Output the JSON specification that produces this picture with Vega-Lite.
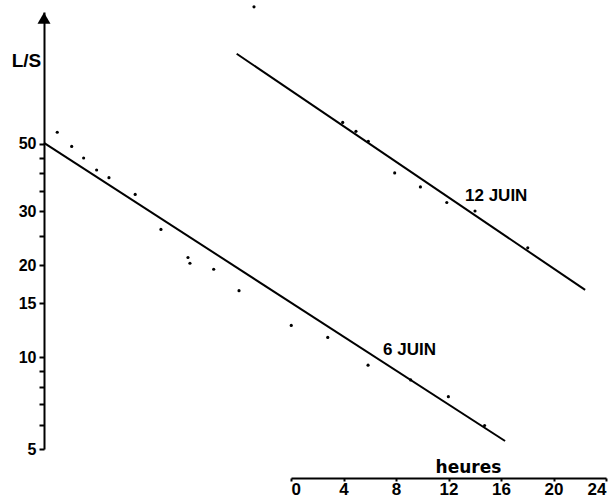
{
  "$schema": "https://vega.github.io/schema/vega-lite/v6.json",
  "width": 562,
  "height": 437,
  "autosize": {"type": "none"},
  "padding": {"left": 44, "top": 12, "right": 10, "bottom": 50},
  "background": "white",
  "config": {
    "view": {"stroke": null},
    "font": "Liberation Sans"
  },
  "datasets": {
    "points": [
      {"series": "6 JUIN", "h": -17.81, "v": 54.5},
      {"series": "6 JUIN", "h": -16.71, "v": 49.0},
      {"series": "6 JUIN", "h": -15.80, "v": 44.9},
      {"series": "6 JUIN", "h": -14.81, "v": 41.0},
      {"series": "6 JUIN", "h": -13.87, "v": 38.7},
      {"series": "6 JUIN", "h": -11.87, "v": 34.1},
      {"series": "6 JUIN", "h": -9.91, "v": 26.2},
      {"series": "6 JUIN", "h": -7.85, "v": 21.2},
      {"series": "6 JUIN", "h": -7.70, "v": 20.3},
      {"series": "6 JUIN", "h": -5.89, "v": 19.4},
      {"series": "6 JUIN", "h": -3.96, "v": 16.5},
      {"series": "6 JUIN", "h": 0.02, "v": 12.7},
      {"series": "6 JUIN", "h": 2.80, "v": 11.6},
      {"series": "6 JUIN", "h": 5.87, "v": 9.41},
      {"series": "6 JUIN", "h": 9.12, "v": 8.42},
      {"series": "6 JUIN", "h": 11.99, "v": 7.42},
      {"series": "6 JUIN", "h": 14.75, "v": 5.97},
      {"series": "12 JUIN", "h": -2.82, "v": 140.4},
      {"series": "12 JUIN", "h": 3.94, "v": 58.7},
      {"series": "12 JUIN", "h": 4.95, "v": 54.9},
      {"series": "12 JUIN", "h": 5.89, "v": 50.9},
      {"series": "12 JUIN", "h": 7.90, "v": 40.1},
      {"series": "12 JUIN", "h": 9.86, "v": 36.1},
      {"series": "12 JUIN", "h": 11.87, "v": 32.1},
      {"series": "12 JUIN", "h": 14.02, "v": 30.1},
      {"series": "12 JUIN", "h": 18.04, "v": 22.8}
    ],
    "lines": [
      {"series": "6 JUIN", "h": -18.82, "v": 50.3},
      {"series": "6 JUIN", "h": 16.31, "v": 5.31},
      {"series": "12 JUIN", "h": -4.14, "v": 98.5},
      {"series": "12 JUIN", "h": 22.41, "v": 16.6}
    ],
    "labels": [
      {"text": "12 JUIN", "h": 13.26, "v": 33.7},
      {"text": "6 JUIN", "h": 7.01, "v": 10.56}
    ],
    "arrow": [
      {"h": -18.82, "v": 129}
    ]
  },
  "encoding": {
    "x": {
      "field": "h",
      "type": "quantitative",
      "scale": {"domain": [0, 24], "range": [247, 562], "nice": false, "zero": false},
      "axis": {
        "values": [0, 4, 8, 12, 16, 20, 24],
        "offset": 29,
        "grid": false,
        "domainColor": "black",
        "domainWidth": 2,
        "tickColor": "black",
        "tickWidth": 2,
        "tickSize": 3,
        "labelPadding": 0,
        "labelFont": "Liberation Sans",
        "labelFontWeight": "bold",
        "labelFontSize": 17,
        "labelColor": "black",
        "title": "heures",
        "titleFont": "DejaVu Sans",
        "titleFontWeight": "bold",
        "titleFontSize": 17,
        "titleColor": "black",
        "titleX": 424,
        "titleY": -2,
        "titleAlign": "center",
        "titleBaseline": "bottom"
      }
    },
    "y": {
      "field": "v",
      "type": "quantitative",
      "scale": {"type": "log", "domain": [5, 135], "nice": false},
      "axis": {
        "values": [5, 6, 7, 8, 9, 10, 15, 20, 25, 30, 35, 40, 45, 50],
        "labelExpr": "indexof([5, 10, 15, 20, 30, 50], datum.value) >= 0 ? datum.label : ''",
        "grid": false,
        "domainColor": "black",
        "domainWidth": 2,
        "tickColor": "black",
        "tickWidth": 2,
        "tickSize": 5,
        "labelPadding": 3,
        "labelFont": "Liberation Sans",
        "labelFontWeight": "bold",
        "labelFontSize": 16,
        "labelColor": "black",
        "title": "L/S",
        "titleFont": "Liberation Sans",
        "titleFontWeight": "bold",
        "titleFontSize": 19,
        "titleColor": "black",
        "titleAngle": 0,
        "titleX": -18,
        "titleY": 48,
        "titleAlign": "center",
        "titleBaseline": "middle"
      }
    }
  },
  "layer": [
    {
      "data": {"name": "lines"},
      "mark": {"type": "line", "color": "black", "strokeWidth": 2},
      "encoding": {"detail": {"field": "series", "type": "nominal"}}
    },
    {
      "data": {"name": "points"},
      "mark": {"type": "point", "filled": true, "color": "black", "size": 10, "opacity": 1}
    },
    {
      "data": {"name": "labels"},
      "mark": {"type": "text", "align": "left", "baseline": "middle", "font": "Liberation Sans", "fontWeight": "bold", "fontSize": 17, "color": "black"},
      "encoding": {"text": {"field": "text", "type": "nominal"}}
    },
    {
      "data": {"name": "arrow"},
      "mark": {"type": "point", "shape": "triangle-up", "filled": true, "color": "black", "size": 169, "opacity": 1}
    }
  ]
}
